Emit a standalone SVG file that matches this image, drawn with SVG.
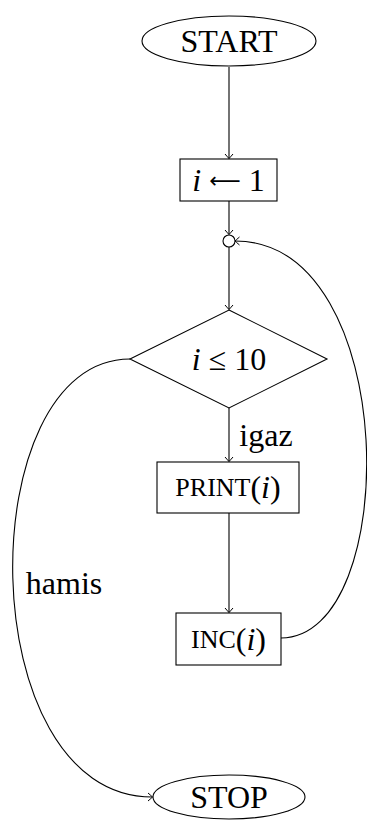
<svg xmlns="http://www.w3.org/2000/svg" width="367" height="820" viewBox="0 0 367 820">
<style>
.s{fill:none;stroke:#000;stroke-width:1.1}
.n{fill:#fff;stroke:#000;stroke-width:1.1}
text{font-family:"Liberation Serif","DejaVu Serif",serif;font-size:32px;fill:#000;text-anchor:middle;dominant-baseline:central}
.it{font-style:italic}
.sc{font-size:26px}
.ar{font-family:"DejaVu Sans",sans-serif;font-size:22px}
</style>
<defs>
<marker id="ar" viewBox="-6 -5 8 10" refX="0" refY="0" markerWidth="8" markerHeight="10" markerUnits="userSpaceOnUse" orient="auto">
<path d="M-4.5,-4 Q-1,-1 0,0 Q-1,1 -4.5,4" fill="none" stroke="#000" stroke-width="1"/>
</marker>
</defs>
<g id="connectors">
<path class="s" d="M229,67 L229,158.5" marker-end="url(#ar)"/>
<path class="s" d="M229,201 L229,234.5" marker-end="url(#ar)"/>
<path class="s" d="M229,247 L229,309.5" marker-end="url(#ar)"/>
<path class="s" d="M229,408 L229,461.5" marker-end="url(#ar)"/>
<path class="s" d="M229,513 L229,612.5" marker-end="url(#ar)"/>
<path class="s" d="M130,359 C-30,359 -30,797 152.5,797" marker-end="url(#ar)"/>
<path class="s" d="M281,638 C402,638 402,241 235,241" marker-end="url(#ar)"/>
<text x="266" y="435">igaz</text>
<text x="64" y="583">hamis</text>
</g>
<g id="start">
<ellipse class="n" cx="229" cy="41" rx="87" ry="25"/>
<text x="229" y="41">START</text>
</g>
<g id="init">
<rect class="n" x="180" y="159" width="97" height="42"/>
<text x="228.5" y="180"><tspan class="it">i</tspan> <tspan class="ar">⟵</tspan> 1</text>
</g>
<g id="join">
<circle class="n" cx="229" cy="241" r="6"/>
</g>
<g id="cond">
<polygon class="n" points="229,310 327,359 229,408 130,359"/>
<text x="229" y="359"><tspan class="it">i</tspan> ≤ 10</text>
</g>
<g id="print">
<rect class="n" x="157" y="462" width="142" height="51"/>
<text x="228" y="487"><tspan class="sc">PRINT</tspan>(<tspan class="it">i</tspan>)</text>
</g>
<g id="inc">
<rect class="n" x="176" y="613" width="105" height="52"/>
<text x="228.5" y="639"><tspan class="sc">INC</tspan>(<tspan class="it">i</tspan>)</text>
</g>
<g id="stop">
<ellipse class="n" cx="229" cy="797" rx="76" ry="22"/>
<text x="229" y="797">STOP</text>
</g>
</svg>
